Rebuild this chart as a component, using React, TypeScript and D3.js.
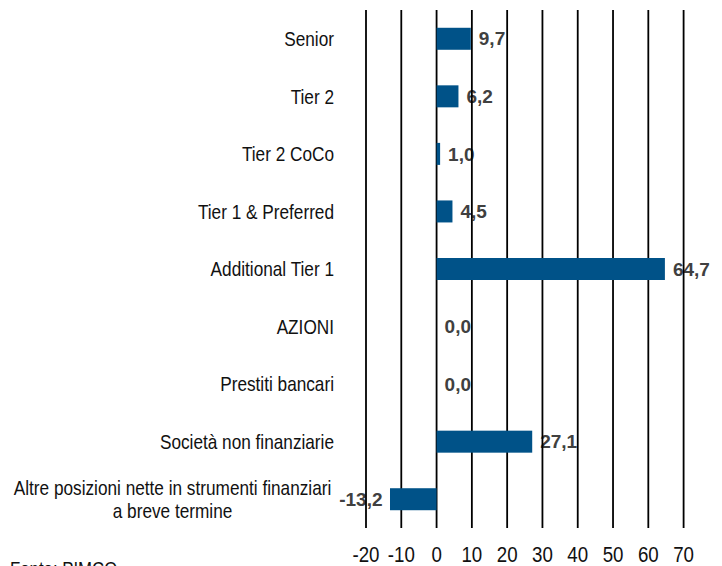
import React from "react";
import * as d3 from "d3";

const categories = [
  "Senior",
  "Tier 2",
  "Tier 2 CoCo",
  "Tier 1 & Preferred",
  "Additional Tier 1",
  "AZIONI",
  "Prestiti bancari",
  "Società non finanziarie",
  "Altre posizioni nette in strumenti finanziari\na breve termine",
];
const values = [9.7, 6.2, 1.0, 4.5, 64.7, 0.0, 0.0, 27.1, -13.2];
const ticks = [-20, -10, 0, 10, 20, 30, 40, 50, 60, 70];
const source = "Fonte: PIMCO";

const W = 722;
const H = 566;
const BAR = "#005288";
const FONT = "'Liberation Sans', Arial, sans-serif";

type TP = {
  x: number;
  y: number;
  size: number;
  sx: number;
  anchor: "start" | "middle" | "end";
  weight?: string;
  fill?: string;
  children: React.ReactNode;
};
function T({ x, y, size, sx, anchor, weight, fill, children }: TP) {
  return (
    <text
      transform={`translate(${x},${y}) scale(${sx},1)`}
      dy="0.35em"
      textAnchor={anchor}
      fontSize={size}
      fontWeight={weight || "normal"}
      fill={fill || "#111"}
    >
      {children}
    </text>
  );
}

export default function App() {
  const x = d3.scaleLinear().domain([-20, 70]).range([366, 683.6]);
  const y = d3.scaleBand<string>().domain(categories).range([10, 528]);
  const bh = 22;
  const fmt = (v: number) => v.toFixed(1).replace(".", ",");
  const catSize = 21;
  const catSx = 0.82;

  return (
    <svg
      width={W}
      height={H}
      style={{ position: "absolute", left: 0, top: 0, background: "#fff" }}
      fontFamily={FONT}
    >
      {categories.map((c) => {
        const lines = c.split("\n");
        const cy = y(c)! + y.bandwidth() / 2;
        if (lines.length === 1) {
          return (
            <T key={c} x={334} y={cy} size={catSize} sx={catSx} anchor="end">
              {c}
            </T>
          );
        }
        const lh = 23.5;
        return (
          <g key={c}>
            {lines.map((l, i) => (
              <T
                key={i}
                x={172.5}
                y={cy + (i - (lines.length - 1) / 2) * lh}
                size={catSize}
                sx={catSx}
                anchor="middle"
              >
                {l}
              </T>
            ))}
          </g>
        );
      })}
      {categories.map((c, i) => {
        const v = values[i];
        const cy = y(c)! + y.bandwidth() / 2;
        const neg = v < 0;
        return (
          <T
            key={"v" + c}
            x={neg ? x(v) - 7.5 : x(v) + 8}
            y={cy}
            size={19}
            sx={1.0}
            anchor={neg ? "end" : "start"}
            weight="bold"
            fill="#404040"
          >
            {fmt(v)}
          </T>
        );
      })}
      {ticks.map((t) => (
        <line key={"g" + t} x1={x(t)} x2={x(t)} y1={10} y2={528} stroke="#000" strokeWidth={1.8} />
      ))}
      {categories.map((c, i) => {
        const v = values[i];
        const cy = y(c)! + y.bandwidth() / 2;
        const x0 = x(Math.min(0, v));
        const x1 = x(Math.max(0, v));
        if (x1 - x0 <= 0) return null;
        return <rect key={"b" + c} x={x0} y={cy - bh / 2} width={x1 - x0} height={bh} fill={BAR} />;
      })}
      {ticks.map((t) => (
        <T key={"t" + t} x={x(t)} y={554} size={22} sx={0.85} anchor="middle">
          {t}
        </T>
      ))}
      <T x={10} y={569} size={21} sx={0.8} anchor="start">
        {source}
      </T>
    </svg>
  );
}
